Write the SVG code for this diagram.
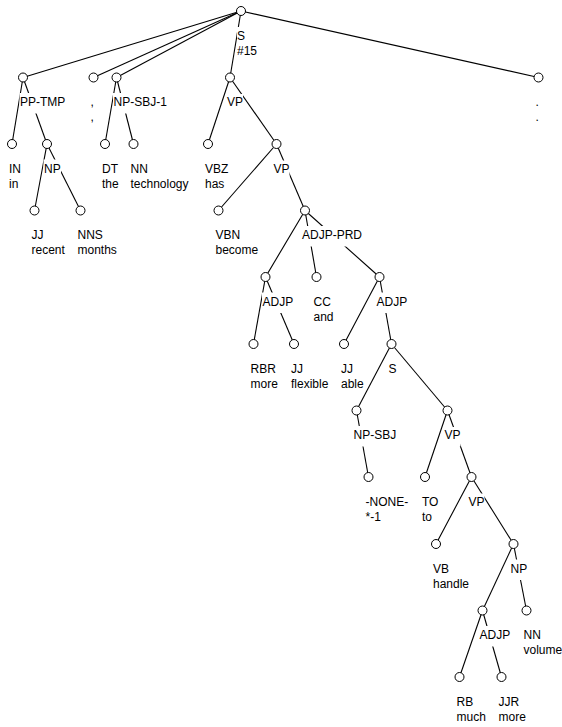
<svg xmlns="http://www.w3.org/2000/svg" width="562" height="727" viewBox="0 0 562 727">
  <style>
    .edge { stroke: #000; stroke-width: 1.1; fill: none; }
    .node circle { fill: #fff; stroke: #000; stroke-width: 1; }
    .node rect { fill: #fff; stroke: none; }
    .node text { font-family: "Liberation Sans", Arial, sans-serif; font-size: 12px; fill: #000; }
  </style>
  <rect width="562" height="727" fill="#fff"/>

  <!-- tree connectors -->
  <g id="connectors" class="edge">
    <line x1="241" y1="11" x2="23" y2="77.5"/>
    <line x1="241" y1="11" x2="93.5" y2="77.5"/>
    <line x1="241" y1="11" x2="116.5" y2="77.5"/>
    <line x1="241" y1="11" x2="230" y2="77.5"/>
    <line x1="241" y1="11" x2="538.5" y2="77.5"/>
    <line x1="23" y1="77.5" x2="12" y2="144"/>
    <line x1="23" y1="77.5" x2="47" y2="144"/>
    <line x1="47" y1="144" x2="34.5" y2="210.5"/>
    <line x1="47" y1="144" x2="80.5" y2="210.5"/>
    <line x1="116.5" y1="77.5" x2="105" y2="144"/>
    <line x1="116.5" y1="77.5" x2="133.5" y2="144"/>
    <line x1="230" y1="77.5" x2="208" y2="144"/>
    <line x1="230" y1="77.5" x2="276.5" y2="144"/>
    <line x1="276.5" y1="144" x2="218.5" y2="210.5"/>
    <line x1="276.5" y1="144" x2="305" y2="210.5"/>
    <line x1="305" y1="210.5" x2="265.5" y2="277"/>
    <line x1="305" y1="210.5" x2="316.5" y2="277"/>
    <line x1="305" y1="210.5" x2="379.5" y2="277"/>
    <line x1="265.5" y1="277" x2="253.5" y2="344"/>
    <line x1="265.5" y1="277" x2="294" y2="344"/>
    <line x1="379.5" y1="277" x2="344" y2="344"/>
    <line x1="379.5" y1="277" x2="391.5" y2="344"/>
    <line x1="391.5" y1="344" x2="356.5" y2="410.5"/>
    <line x1="391.5" y1="344" x2="447.5" y2="410.5"/>
    <line x1="356.5" y1="410.5" x2="368.5" y2="477"/>
    <line x1="447.5" y1="410.5" x2="425" y2="477"/>
    <line x1="447.5" y1="410.5" x2="471.5" y2="477"/>
    <line x1="471.5" y1="477" x2="436" y2="544"/>
    <line x1="471.5" y1="477" x2="513.5" y2="544"/>
    <line x1="513.5" y1="544" x2="482.5" y2="610.5"/>
    <line x1="513.5" y1="544" x2="526.5" y2="610.5"/>
    <line x1="482.5" y1="610.5" x2="459.5" y2="677"/>
    <line x1="482.5" y1="610.5" x2="501.5" y2="677"/>
  </g>

  <!-- phrase nodes -->
  <g id="n-S" class="node">
    <rect x="237" y="27" width="21" height="35.5"/>
    <circle cx="241" cy="11" r="4.5"/>
    <text x="237" y="39.5">S<tspan x="237" dy="15">#15</tspan></text>
  </g>
  <g id="n-PP-TMP" class="node">
    <rect x="19.5" y="93" width="46" height="20.5"/>
    <circle cx="23" cy="77.5" r="4.5"/>
    <text x="20" y="106">PP-TMP</text>
  </g>
  <g id="n-comma" class="node">
    <circle cx="93.5" cy="77.5" r="4.5"/>
    <text x="90.5" y="106">,<tspan x="90.5" dy="15">,</tspan></text>
  </g>
  <g id="n-NP-SBJ-1" class="node">
    <rect x="113" y="93" width="54" height="20.5"/>
    <circle cx="116.5" cy="77.5" r="4.5"/>
    <text x="113.5" y="106">NP-SBJ-1</text>
  </g>
  <g id="n-VP1" class="node">
    <rect x="226.5" y="94" width="16.5" height="19.5"/>
    <circle cx="230" cy="77.5" r="4.5"/>
    <text x="227" y="106">VP</text>
  </g>
  <g id="n-period" class="node">
    <circle cx="538.5" cy="77.5" r="4.5"/>
    <text x="535.5" y="106">.<tspan x="535.5" dy="15">.</tspan></text>
  </g>
  <g id="n-IN" class="node">
    <circle cx="12" cy="144" r="4.5"/>
    <text x="9" y="172.5">IN<tspan x="9" dy="15">in</tspan></text>
  </g>
  <g id="n-NP1" class="node">
    <rect x="43.5" y="159.5" width="17.5" height="20.5"/>
    <circle cx="47" cy="144" r="4.5"/>
    <text x="44" y="172.5">NP</text>
  </g>
  <g id="n-DT" class="node">
    <circle cx="105" cy="144" r="4.5"/>
    <text x="102" y="172.5">DT<tspan x="102" dy="15">the</tspan></text>
  </g>
  <g id="n-NN1" class="node">
    <circle cx="133.5" cy="144" r="4.5"/>
    <text x="130.5" y="172.5">NN<tspan x="130.5" dy="15">technology</tspan></text>
  </g>
  <g id="n-VBZ" class="node">
    <circle cx="208" cy="144" r="4.5"/>
    <text x="205" y="172.5">VBZ<tspan x="205" dy="15">has</tspan></text>
  </g>
  <g id="n-VP2" class="node">
    <rect x="273" y="160.5" width="16.5" height="19.5"/>
    <circle cx="276.5" cy="144" r="4.5"/>
    <text x="273.5" y="172.5">VP</text>
  </g>
  <g id="n-JJ1" class="node">
    <circle cx="34.5" cy="210.5" r="4.5"/>
    <text x="31.5" y="239">JJ<tspan x="31.5" dy="15">recent</tspan></text>
  </g>
  <g id="n-NNS" class="node">
    <circle cx="80.5" cy="210.5" r="4.5"/>
    <text x="77.5" y="239">NNS<tspan x="77.5" dy="15">months</tspan></text>
  </g>
  <g id="n-VBN" class="node">
    <circle cx="218.5" cy="210.5" r="4.5"/>
    <text x="215.5" y="239">VBN<tspan x="215.5" dy="15">become</tspan></text>
  </g>
  <g id="n-ADJP-PRD" class="node">
    <rect x="301.5" y="226" width="61" height="20.5"/>
    <circle cx="305" cy="210.5" r="4.5"/>
    <text x="302" y="239">ADJP-PRD</text>
  </g>
  <g id="n-ADJP1" class="node">
    <rect x="262" y="292.5" width="31.5" height="20.5"/>
    <circle cx="265.5" cy="277" r="4.5"/>
    <text x="262.5" y="305.5">ADJP</text>
  </g>
  <g id="n-CC" class="node">
    <circle cx="316.5" cy="277" r="4.5"/>
    <text x="313.5" y="305.5">CC<tspan x="313.5" dy="15">and</tspan></text>
  </g>
  <g id="n-ADJP2" class="node">
    <rect x="376" y="292.5" width="31.5" height="20.5"/>
    <circle cx="379.5" cy="277" r="4.5"/>
    <text x="376.5" y="305.5">ADJP</text>
  </g>
  <g id="n-RBR" class="node">
    <circle cx="253.5" cy="344" r="4.5"/>
    <text x="250.5" y="372.5">RBR<tspan x="250.5" dy="15">more</tspan></text>
  </g>
  <g id="n-JJ2" class="node">
    <circle cx="294" cy="344" r="4.5"/>
    <text x="291" y="372.5">JJ<tspan x="291" dy="15">flexible</tspan></text>
  </g>
  <g id="n-JJ3" class="node">
    <circle cx="344" cy="344" r="4.5"/>
    <text x="341" y="372.5">JJ<tspan x="341" dy="15">able</tspan></text>
  </g>
  <g id="n-S2" class="node">
    <rect x="388" y="359.5" width="9" height="20.5"/>
    <circle cx="391.5" cy="344" r="4.5"/>
    <text x="388.5" y="372.5">S</text>
  </g>
  <g id="n-NP-SBJ" class="node">
    <rect x="353" y="426" width="43.5" height="20.5"/>
    <circle cx="356.5" cy="410.5" r="4.5"/>
    <text x="353.5" y="439">NP-SBJ</text>
  </g>
  <g id="n-VP3" class="node">
    <rect x="444" y="427" width="16.5" height="19.5"/>
    <circle cx="447.5" cy="410.5" r="4.5"/>
    <text x="444.5" y="439">VP</text>
  </g>
  <g id="n-NONE" class="node">
    <circle cx="368.5" cy="477" r="4.5"/>
    <text x="365.5" y="505.5">-NONE-<tspan x="365.5" dy="15">*-1</tspan></text>
  </g>
  <g id="n-TO" class="node">
    <circle cx="425" cy="477" r="4.5"/>
    <text x="422" y="505.5">TO<tspan x="422" dy="15">to</tspan></text>
  </g>
  <g id="n-VP4" class="node">
    <rect x="468" y="493.5" width="16.5" height="19.5"/>
    <circle cx="471.5" cy="477" r="4.5"/>
    <text x="468.5" y="505.5">VP</text>
  </g>
  <g id="n-VB" class="node">
    <circle cx="436" cy="544" r="4.5"/>
    <text x="433" y="572.5">VB<tspan x="433" dy="15">handle</tspan></text>
  </g>
  <g id="n-NP2" class="node">
    <rect x="510" y="559.5" width="17.5" height="20.5"/>
    <circle cx="513.5" cy="544" r="4.5"/>
    <text x="510.5" y="572.5">NP</text>
  </g>
  <g id="n-ADJP3" class="node">
    <rect x="479" y="626" width="31.5" height="20.5"/>
    <circle cx="482.5" cy="610.5" r="4.5"/>
    <text x="479.5" y="639">ADJP</text>
  </g>
  <g id="n-NN2" class="node">
    <circle cx="526.5" cy="610.5" r="4.5"/>
    <text x="523.5" y="639">NN<tspan x="523.5" dy="15">volume</tspan></text>
  </g>
  <g id="n-RB" class="node">
    <circle cx="459.5" cy="677" r="4.5"/>
    <text x="456.5" y="705.5">RB<tspan x="456.5" dy="15">much</tspan></text>
  </g>
  <g id="n-JJR" class="node">
    <circle cx="501.5" cy="677" r="4.5"/>
    <text x="498.5" y="705.5">JJR<tspan x="498.5" dy="15">more</tspan></text>
  </g>
</svg>
